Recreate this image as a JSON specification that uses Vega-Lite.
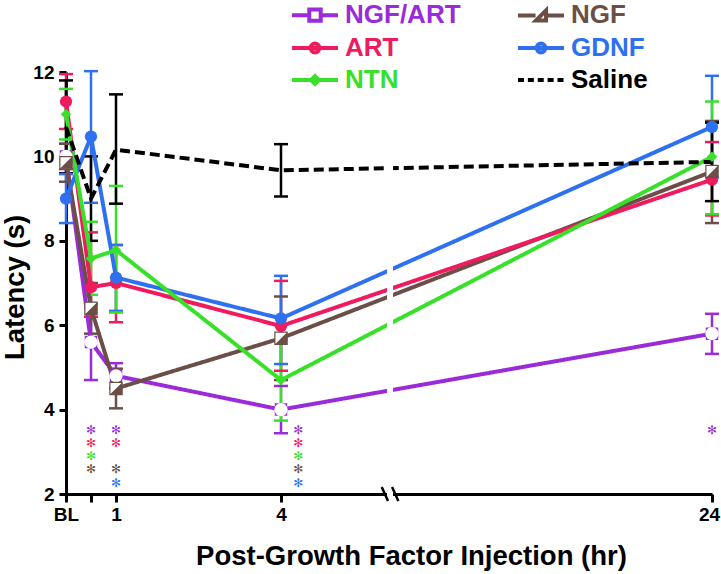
{
  "$schema": "https://vega.github.io/schema/vega-lite/v6.json",
  "width": 646,
  "height": 422,
  "autosize": "none",
  "padding": {"left": 66, "top": 72, "right": 9, "bottom": 80},
  "background": "white",
  "config": {"view": {"stroke": null}, "font": "Liberation Sans"},
  "datasets": {
    "d": [
      {"series": "NGF/ART", "t": 0, "y": 10.0, "lo": 9.7, "hi": 10.3},
      {"series": "NGF", "t": 0, "y": 9.85, "lo": 9.4, "hi": 10.3},
      {"series": "ART", "t": 0, "y": 11.3, "lo": 10.65, "hi": 11.95},
      {"series": "GDNF", "t": 0, "y": 9.0, "lo": 8.42, "hi": 9.58},
      {"series": "NTN", "t": 0, "y": 11.0, "lo": 10.4, "hi": 11.6},
      {"series": "Saline", "t": 0, "y": 10.7, "lo": 9.6, "hi": 11.8},
      {"series": "NGF/ART", "t": 0.5, "y": 5.6, "lo": 4.7, "hi": 6.5},
      {"series": "NGF", "t": 0.5, "y": 6.4, "lo": 5.8, "hi": 7.0},
      {"series": "ART", "t": 0.5, "y": 6.9, "lo": 6.2, "hi": 8.2},
      {"series": "GDNF", "t": 0.5, "y": 10.47, "lo": 8.9, "hi": 12.02},
      {"series": "NTN", "t": 0.5, "y": 7.58, "lo": 6.72, "hi": 8.45},
      {"series": "Saline", "t": 0.5, "y": 9.0, "lo": 8.0, "hi": 10.0},
      {"series": "NGF/ART", "t": 1, "y": 4.8, "lo": 4.5, "hi": 5.1},
      {"series": "NGF", "t": 1, "y": 4.5, "lo": 4.03, "hi": 4.97},
      {"series": "ART", "t": 1, "y": 7.0, "lo": 6.07, "hi": 7.9},
      {"series": "GDNF", "t": 1, "y": 7.13, "lo": 6.34, "hi": 7.9},
      {"series": "NTN", "t": 1, "y": 7.78, "lo": 6.3, "hi": 9.3},
      {"series": "Saline", "t": 1, "y": 10.16, "lo": 8.88, "hi": 11.47},
      {"series": "NGF/ART", "t": 4, "y": 4.0, "lo": 3.44, "hi": 4.56},
      {"series": "NGF", "t": 4, "y": 5.69, "lo": 4.7, "hi": 6.68},
      {"series": "ART", "t": 4, "y": 5.98, "lo": 4.92, "hi": 7.05},
      {"series": "GDNF", "t": 4, "y": 6.16, "lo": 5.08, "hi": 7.17},
      {"series": "NTN", "t": 4, "y": 4.7, "lo": 3.74, "hi": 5.66},
      {"series": "Saline", "t": 4, "y": 9.67, "lo": 9.05, "hi": 10.29},
      {"series": "NGF/ART", "t": 24, "y": 5.8, "lo": 5.32, "hi": 6.27},
      {"series": "NGF", "t": 24, "y": 9.64, "lo": 8.42, "hi": 10.84},
      {"series": "ART", "t": 24, "y": 9.45, "lo": 8.6, "hi": 10.34},
      {"series": "GDNF", "t": 24, "y": 10.7, "lo": 9.5, "hi": 11.91},
      {"series": "NTN", "t": 24, "y": 9.99, "lo": 8.63, "hi": 11.3},
      {"series": "Saline", "t": 24, "y": 9.87, "lo": 8.94, "hi": 10.8}
    ],
    "stars": [
      {"series": "NGF/ART", "t": 0.5, "y": 3.52},
      {"series": "ART", "t": 0.5, "y": 3.2},
      {"series": "NTN", "t": 0.5, "y": 2.9},
      {"series": "NGF", "t": 0.5, "y": 2.59},
      {"series": "NGF/ART", "t": 1, "y": 3.52},
      {"series": "ART", "t": 1, "y": 3.2},
      {"series": "NGF", "t": 1, "y": 2.59},
      {"series": "GDNF", "t": 1, "y": 2.27},
      {"series": "NGF/ART", "t": 4.8, "y": 3.52},
      {"series": "ART", "t": 4.8, "y": 3.2},
      {"series": "NTN", "t": 4.8, "y": 2.9},
      {"series": "NGF", "t": 4.8, "y": 2.59},
      {"series": "GDNF", "t": 4.8, "y": 2.27},
      {"series": "NGF/ART", "t": 24, "y": 3.52}
    ]
  },
  "data": {"name": "d"},
  "encoding": {
    "x": {
      "field": "t", "type": "quantitative",
      "scale": {"domain": [0, 1, 4, 24], "range": [0, 50, 215, 646], "nice": false, "zero": false},
      "axis": {
        "title": "Post-Growth Factor Injection (hr)",
        "values": [0, 0.5, 1, 4, 24],
        "labelExpr": "datum.value == 0 ? 'BL' : (datum.value == 0.5 ? '' : datum.label)",
        "grid": false, "domainColor": "black", "domainWidth": 3, "tickColor": "black", "tickWidth": 3, "tickSize": 8,
        "labelFontSize": 19, "labelFontWeight": "bold", "labelColor": "black", "labelPadding": 3,
        "labelOffset": {"condition": {"test": "datum.value == 24", "value": -3}, "value": 0},
        "labelFlush": false, "labelOverlap": false,
        "titleFontSize": 27.5, "titleFontWeight": "bold", "titleColor": "black", "titlePadding": 18, "titleX": 345
      }
    },
    "y": {
      "field": "y", "type": "quantitative", "title": "Latency (s)",
      "scale": {"domain": [2, 12], "nice": false, "zero": false},
      "axis": {
        "title": "Latency (s)",
        "values": [2, 4, 6, 8, 10, 12],
        "grid": false, "domainColor": "black", "domainWidth": 3, "tickColor": "black", "tickWidth": 3, "tickSize": 7,
        "labelFontSize": 19, "labelFontWeight": "bold", "labelColor": "black", "labelPadding": 5,
        "titleFontSize": 27.5, "titleFontWeight": "bold", "titleColor": "black", "titlePadding": 3, "titleY": 215
      }
    }
  },
  "layer": [
    {
      "mark": {"type": "rule", "strokeWidth": 2.5},
      "encoding": {
        "y": {"field": "lo", "type": "quantitative", "title": "Latency (s)"},
        "y2": {"field": "hi"},
        "stroke": {"field": "series", "type": "nominal", "legend": null,
          "scale": {"domain": ["Saline", "NGF/ART", "NGF", "ART", "GDNF", "NTN"], "range": ["#000000", "#9a2bd8", "#6b4f47", "#f01a5e", "#2f70f0", "#38e02a"]}}
      }
    },
    {
      "mark": {"type": "rule", "strokeWidth": 2.5, "xOffset": -7, "x2Offset": 7},
      "encoding": {
        "x2": {"field": "t"},
        "y": {"field": "lo", "type": "quantitative", "title": "Latency (s)"},
        "stroke": {"field": "series", "type": "nominal", "legend": null}
      }
    },
    {
      "mark": {"type": "rule", "strokeWidth": 2.5, "xOffset": -7, "x2Offset": 7},
      "encoding": {
        "x2": {"field": "t"},
        "y": {"field": "hi", "type": "quantitative", "title": "Latency (s)"},
        "stroke": {"field": "series", "type": "nominal", "legend": null}
      }
    },
    {
      "mark": {"type": "line", "strokeWidth": 4},
      "encoding": {
        "stroke": {"field": "series", "type": "nominal", "legend": null},
        "strokeDash": {
          "field": "series", "type": "nominal", "legend": null,
          "scale": {"domain": ["GDNF", "NTN", "Saline", "NGF/ART", "NGF", "ART"], "range": [[1, 0], [1, 0], [10, 5], [1, 0], [1, 0], [1, 0]]}
        }
      }
    },
    {
      "data": {"values": [{"t": 9.06, "y": 1.82, "y2": 10.0}]},
      "mark": {"type": "rule", "strokeWidth": 6, "color": "white"},
      "encoding": {"y2": {"field": "y2"}}
    },
    {
      "data": {"values": [{"t": 8.82, "y": 2}, {"t": 9.3, "y": 2}]},
      "mark": {"type": "point", "shape": "M-0.45,-1L0.45,1", "size": 196, "strokeWidth": 2.5, "filled": false, "color": "black", "opacity": 1}
    },
    {
      "transform": [{"filter": "datum.series === 'NGF/ART'"}],
      "mark": {"type": "point", "shape": "square", "filled": true, "size": 110, "fill": "white", "stroke": "#9a2bd8", "strokeWidth": 2, "opacity": 1}
    },
    {
      "transform": [{"filter": "datum.series === 'NGF/ART'"}],
      "mark": {"type": "point", "shape": "circle", "filled": true, "size": 175, "fill": "white", "strokeWidth": 0, "opacity": 1}
    },
    {
      "transform": [{"filter": "datum.series === 'ART'"}],
      "mark": {"type": "point", "shape": "circle", "filled": true, "size": 150, "color": "#f01a5e", "opacity": 1}
    },
    {
      "transform": [{"filter": "datum.series === 'GDNF'"}],
      "mark": {"type": "point", "shape": "circle", "filled": true, "size": 150, "color": "#2f70f0", "opacity": 1}
    },
    {
      "transform": [{"filter": "datum.series === 'NTN'"}],
      "mark": {"type": "point", "shape": "diamond", "filled": true, "size": 110, "color": "#38e02a", "opacity": 1}
    },
    {
      "transform": [{"filter": "datum.series === 'NGF'"}],
      "mark": {"type": "point", "shape": "square", "filled": true, "size": 150, "fill": "white", "stroke": "#6b4f47", "strokeWidth": 1.2, "opacity": 1}
    },
    {
      "transform": [{"filter": "datum.series === 'NGF'"}],
      "mark": {"type": "point", "shape": "M1,-1L1,1L-1,1Z", "filled": true, "size": 150, "color": "#6b4f47", "opacity": 1}
    },
    {
      "data": {"name": "stars"},
      "mark": {"type": "text", "text": "✻", "font": "DejaVu Sans", "fontSize": 12, "baseline": "middle", "align": "center"},
      "encoding": {
        "fill": {"field": "series", "type": "nominal", "legend": null,
          "scale": {"domain": ["NTN", "Saline", "NGF/ART", "NGF", "ART", "GDNF"], "range": ["#38e02a", "#000000", "#9a2bd8", "#6b4f47", "#f01a5e", "#2f70f0"]}}
      }
    },
    {
      "transform": [{"filter": "false"}],
      "mark": {"type": "point", "filled": false, "strokeWidth": 4, "opacity": 1},
      "encoding": {
        "color": {
          "field": "series", "type": "nominal",
          "scale": {"domain": ["NGF/ART", "ART", "NTN", "NGF", "GDNF", "Saline"], "range": ["#9a2bd8", "#f01a5e", "#38e02a", "#6b4f47", "#2f70f0", "#000000"]},
          "legend": {
            "title": null, "orient": "none", "legendX": 234, "legendY": -72,
            "columns": 2, "columnPadding": 48, "rowPadding": 4,
            "symbolSize": 676, "symbolStrokeWidth": 4, "symbolOpacity": 1,
            "labelFont": "Liberation Sans", "labelFontSize": 26, "labelFontWeight": "bold",
            "labelOffset": 15, "labelLimit": 300,
            "labelColor": {"expr": "scale('color', datum.value)"}
          }
        },
        "shape": {
          "field": "series", "type": "nominal",
          "scale": {
            "domain": ["NGF/ART", "ART", "NTN", "NGF", "GDNF", "Saline"],
            "range": [
              "M-1.77,0H-0.48M0.48,0H1.77M-0.44,-0.44H0.44V0.44H-0.44Z",
              "M-1.77,0H1.77M0.34,0A0.34,0.34 0 1,1 -0.34,0A0.34,0.34 0 1,1 0.34,0",
              "M-1.77,0H1.77M0,-0.3L0.3,0L0,0.3L-0.3,0Z",
              "M-1.77,0H-0.42M0.42,0H1.77M0.39,-0.39L0.39,0.39L-0.39,0.39Z",
              "M-1.77,0H1.77M0.34,0A0.34,0.34 0 1,1 -0.34,0A0.34,0.34 0 1,1 0.34,0",
              "M-1.77,0H-1.31M-1.01,0H-0.55M-0.25,0H0.21M0.51,0H0.97M1.27,0H1.73"
            ]
          },
          "legend": {
            "title": null, "orient": "none", "legendX": 234, "legendY": -72,
            "columns": 2, "columnPadding": 48, "rowPadding": 4,
            "symbolSize": 676, "symbolStrokeWidth": 4, "symbolOpacity": 1,
            "labelFont": "Liberation Sans", "labelFontSize": 26, "labelFontWeight": "bold",
            "labelOffset": 15, "labelLimit": 300,
            "labelColor": {"expr": "scale('color', datum.value)"}
          }
        }
      }
    }
  ]
}
